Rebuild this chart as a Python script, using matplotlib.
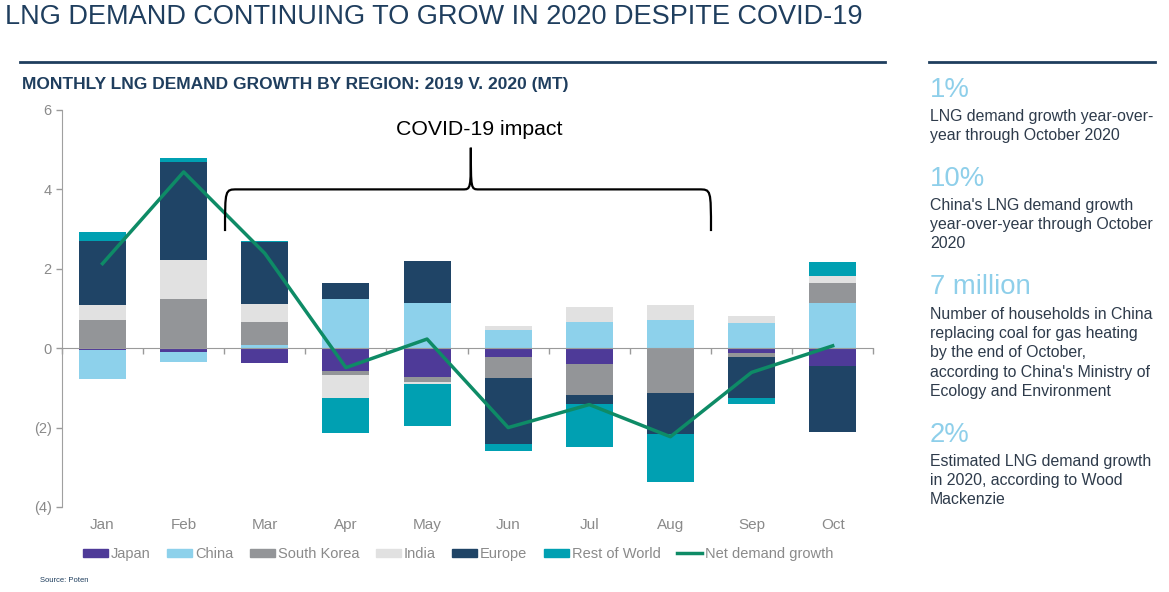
import matplotlib.pyplot as plt
import numpy as np
from matplotlib.patches import Patch, PathPatch
from matplotlib.lines import Line2D
from matplotlib.path import Path
from matplotlib.ticker import FuncFormatter

plt.rcParams['font.family'] = ['Liberation Sans', 'DejaVu Sans']

months = ["Jan", "Feb", "Mar", "Apr", "May", "Jun", "Jul", "Aug", "Sep", "Oct"]
regions = ["Japan", "China", "South Korea", "India", "Europe", "Rest of World"]
japan = [-0.04, -0.09, -0.38, -0.57, -0.72, -0.23, -0.39, 0.0, -0.13, -0.44]
china = [-0.74, -0.26, 0.08, 1.25, 1.15, 0.45, 0.66, 0.71, 0.63, 1.13]
south_korea = [0.70, 1.25, 0.58, -0.10, -0.13, -0.51, -0.79, -1.14, -0.09, 0.50]
india = [0.39, 0.96, 0.45, -0.59, -0.06, 0.12, 0.39, 0.38, 0.18, 0.18]
europe = [1.62, 2.49, 1.57, 0.40, 1.05, -1.68, -0.23, -1.01, -1.04, -1.68]
rest_of_world = [0.22, 0.09, 0.03, -0.88, -1.06, -0.16, -1.08, -1.21, -0.15, 0.37]
net_growth = [2.13, 4.44, 2.39, -0.49, 0.23, -2.00, -1.42, -2.23, -0.61, 0.06]

colors = ["#4E3A98", "#8DD1EB", "#939598", "#E1E1E1", "#1F4466", "#00A0B2"]
navy = "#1F3E5E"
text_col = "#2E3B4B"
light_blue = "#8ECFEA"

fig = plt.figure(figsize=(11.69, 5.92), dpi=100)
ax = fig.add_axes([0.053, 0.1436, 0.694, 0.6706])

x = np.arange(len(months))
pos_base = np.zeros(len(months))
neg_base = np.zeros(len(months))
for name, vals, c in zip(regions, [japan, china, south_korea, india, europe, rest_of_world], colors):
    v = np.array(vals)
    pos = np.where(v > 0, v, 0)
    neg = np.where(v < 0, v, 0)
    ax.bar(x, pos, 0.58, bottom=pos_base, color=c, zorder=2)
    ax.bar(x, neg, 0.58, bottom=neg_base, color=c, zorder=2)
    pos_base += pos
    neg_base += neg

ax.plot(x, net_growth, color="#0E8B66", lw=2.5, zorder=4)

ax.set_xlim(-0.5, 9.5)
ax.set_ylim(-4, 6)
ax.set_yticks([-4, -2, 0, 2, 4, 6])
ax.yaxis.set_major_formatter(FuncFormatter(lambda v, p: f"({abs(int(v))})" if v < 0 else f"{int(v)}"))
ax.tick_params(axis='y', colors="#9A9A9A", labelcolor="#8A8A8A", labelsize=10.5, length=4, width=1)
for s in ["top", "right"]:
    ax.spines[s].set_visible(False)
ax.spines["left"].set_color("#A0A0A0")
ax.spines["bottom"].set_position(("data", 0))
ax.spines["bottom"].set_color("#9A9A9A")
ax.spines["bottom"].set_zorder(3)
ax.set_xticks(np.arange(-0.5, 10, 1))
ax.set_xticklabels([])
ax.tick_params(axis='x', colors="#9A9A9A", length=4, width=1)

sec = ax.secondary_xaxis('bottom')
sec.set_xticks(x)
sec.set_xticklabels(months)
sec.spines["bottom"].set_visible(False)
sec.tick_params(length=0, pad=8, labelsize=11, labelcolor="#8A8A8A")

# brace for the COVID-19 annotation
xl, xr, xc = 1.51, 7.5, 4.54
yb, yt, yp = 2.95, 4.0, 5.05
verts = [(xl, yb), (xl, yt), (xl, yt), (xl + 0.15, yt),
         (xc - 0.1, yt),
         (xc, yt), (xc, yt), (xc, yp),
         (xc, yt), (xc, yt), (xc + 0.1, yt),
         (xr - 0.15, yt),
         (xr, yt), (xr, yt), (xr, yb)]
codes = [Path.MOVETO, Path.CURVE4, Path.CURVE4, Path.CURVE4,
         Path.LINETO,
         Path.CURVE4, Path.CURVE4, Path.CURVE4,
         Path.CURVE4, Path.CURVE4, Path.CURVE4,
         Path.LINETO,
         Path.CURVE4, Path.CURVE4, Path.CURVE4]
ax.add_patch(PathPatch(Path(verts, codes), fill=False, lw=1.6, color="black", zorder=5))
ax.text(4.64, 5.5, "COVID-19 impact", ha="center", va="center", fontsize=15.3, color="black")

handles = [Patch(color=c) for c in colors] + [Line2D([0], [0], color="#0E8B66", lw=2.5)]
fig.legend(handles, regions + ["Net demand growth"], loc="center", bbox_to_anchor=(0.392, 0.064),
           ncol=7, frameon=False, fontsize=10.5, handlelength=1.7, handleheight=0.5,
           handletextpad=0.2, columnspacing=1.15, labelcolor="#8A8A8A")

# header
fig.text(0.004, 0.972, "LNG DEMAND CONTINUING TO GROW IN 2020 DESPITE COVID-19",
         fontsize=19.5, color=navy, va="center", ha="left")
fig.add_artist(Line2D([0.017, 0.757], [0.895, 0.895], color=navy, lw=2))
fig.add_artist(Line2D([0.795, 0.988], [0.895, 0.895], color=navy, lw=2))
fig.text(0.019, 0.858, "MONTHLY LNG DEMAND GROWTH BY REGION: 2019 V. 2020 (MT)",
         fontsize=12.5, fontweight="bold", color=navy, va="center", ha="left")
fig.text(0.034, 0.02, "Source: Poten", fontsize=5.5, color=navy, va="center")

# side panel
side = [("1%", "LNG demand growth year-over-\nyear through October 2020", 90, 115),
        ("10%", "China's LNG demand growth\nyear-over-year through October\n2020", 179, 204),
        ("7 million", "Number of households in China\nreplacing coal for gas heating\nby the end of October,\n"
                      "according to China's Ministry of\nEcology and Environment", 287, 313),
        ("2%", "Estimated LNG demand growth\nin 2020, according to Wood\nMackenzie", 435, 460)]
for big, body, yb_, yt_ in side:
    fig.text(930 / 1169, 1 - yb_ / 592, big, fontsize=19.8, color=light_blue, va="center", ha="left")
    fig.text(930 / 1169, 1 - (yt_ - 6) / 592, body, fontsize=11.4, color=text_col, va="top", ha="left",
             linespacing=1.35)

fig.savefig("out.png", dpi=100)
